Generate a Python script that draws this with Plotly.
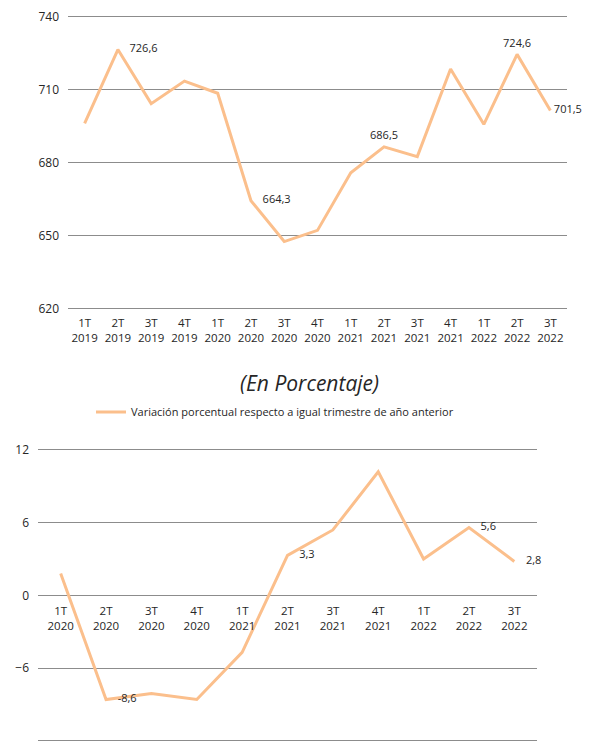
import plotly.graph_objects as go

# Datos: nivel trimestral (gráfico superior)
trimestres_nivel = ["1T<br>2019", "2T<br>2019", "3T<br>2019", "4T<br>2019",
                    "1T<br>2020", "2T<br>2020", "3T<br>2020", "4T<br>2020",
                    "1T<br>2021", "2T<br>2021", "3T<br>2021", "4T<br>2021",
                    "1T<br>2022", "2T<br>2022", "3T<br>2022"]
valores_nivel = [696.2, 726.6, 704.3, 713.6, 708.6, 664.3, 647.5, 652.1,
                 675.8, 686.5, 682.5, 718.6, 695.8, 724.6, 701.5]
ticks_nivel = [620, 650, 680, 710, 740]
etiquetas_nivel = {1: "middle right", 5: "middle right", 9: "top center",
                   13: "top center", 14: "middle right"}

# Datos: variación porcentual (gráfico inferior)
trimestres_var = ["1T<br>2020", "2T<br>2020", "3T<br>2020", "4T<br>2020",
                  "1T<br>2021", "2T<br>2021", "3T<br>2021", "4T<br>2021",
                  "1T<br>2022", "2T<br>2022", "3T<br>2022"]
valores_var = [1.8, -8.6, -8.1, -8.6, -4.7, 3.3, 5.4, 10.2, 3.0, 5.6, 2.8]
ticks_var = [-12, -6, 0, 6, 12]
etiquetas_var = {1: "middle right", 5: "middle right", 9: "middle right",
                 10: "middle right"}

nombre_serie = "Variación porcentual respecto a igual trimestre de año anterior"

COLOR_LINEA = "#FBBF8C"
COLOR_GRID = "#8C8C8C"
COLOR_TEXTO = "#262626"
FUENTE = "Open Sans"

# la página deja 8px de margen en el body: se trabaja en píxeles de pantalla
OFF = 8
W, H = 591 - 2 * OFF, 747 - OFF


def fmt(v):
    return f"{v:.1f}".replace(".", ",")


def textos(valores, etiquetas):
    txt = [fmt(v) if i in etiquetas else "" for i, v in enumerate(valores)]
    pos = [etiquetas.get(i, "middle right") for i in range(len(valores))]
    # marcadores invisibles para separar las etiquetas de la línea
    tam = [6 if p == "top center" else 17 for p in pos]
    # la última etiqueta queda pegada al borde derecho de la página
    tam[-1] = 4
    return txt, pos, tam


def px_x(a, b):
    return [(a - OFF) / W, (b - OFF) / W]


def px_y(top, bottom):
    return [1 - (bottom - OFF) / H, 1 - (top - OFF) / H]


def dominio_y(rango, y_lo, y_hi, pad):
    # y_lo / y_hi: píxel de pantalla de rango[0] / rango[1]
    escala = (y_lo - y_hi) / (rango[1] - rango[0])
    return px_y(y_hi - pad * escala, y_lo + pad * escala), [rango[0] - pad, rango[1] + pad]


fig = go.Figure()

txt1, pos1, tam1 = textos(valores_nivel, etiquetas_nivel)
fig.add_trace(go.Scatter(
    x=trimestres_nivel, y=valores_nivel, mode="lines+markers+text",
    line=dict(color=COLOR_LINEA, width=3),
    marker=dict(size=tam1, color="rgba(0,0,0,0)", line=dict(width=0)),
    text=txt1, textposition=pos1,
    textfont=dict(family=FUENTE, size=11, color=COLOR_TEXTO),
    cliponaxis=False, showlegend=False,
    xaxis="x", yaxis="y",
))

txt2, pos2, tam2 = textos(valores_var, etiquetas_var)
tam2[-1] = 17
fig.add_trace(go.Scatter(
    x=trimestres_var, y=valores_var, mode="lines+markers+text",
    line=dict(color=COLOR_LINEA, width=3),
    marker=dict(size=tam2, color="rgba(0,0,0,0)", line=dict(width=0)),
    text=txt2, textposition=pos2,
    textfont=dict(family=FUENTE, size=11, color=COLOR_TEXTO),
    cliponaxis=False, name=nombre_serie, showlegend=True,
    xaxis="x2", yaxis="y2",
))

dom_y1, rango_y1 = dominio_y([620, 740], 308.3, 17, 1.5)
dom_y2, rango_y2 = dominio_y([-12, 12], 740.7, 450, 0.3)

eje_x = dict(showgrid=False, zeroline=False, showline=False, ticks="",
             tickangle=0, tickfont=dict(family=FUENTE, size=11.5, color=COLOR_TEXTO),
             automargin=False, fixedrange=True)
eje_y = dict(showgrid=True, gridcolor=COLOR_GRID, gridwidth=1, zeroline=False,
             showline=False, ticks="", ticklabelstandoff=8,
             tickfont=dict(family=FUENTE, size=12, color=COLOR_TEXTO),
             automargin=False, fixedrange=True)

fig.update_layout(
    width=W, height=H,
    margin=dict(l=0, r=0, t=0, b=0),
    paper_bgcolor="white", plot_bgcolor="white",
    xaxis=dict(eje_x, domain=px_x(68, 567), anchor="y", ticklabelstandoff=3,
               range=[-0.5, len(trimestres_nivel) - 0.5]),
    yaxis=dict(eje_y, domain=dom_y1, range=rango_y1,
               tickvals=ticks_nivel, anchor="x"),
    xaxis2=dict(eje_x, domain=px_x(38, 537), anchor="free", ticklabelstandoff=7,
                position=(dom_y2[0] + dom_y2[1]) / 2,
                range=[-0.5, len(trimestres_var) - 0.5]),
    yaxis2=dict(eje_y, domain=dom_y2, range=rango_y2,
                tickvals=ticks_var, anchor="x2"),
    legend=dict(
        x=(91 - OFF) / W, y=1 - (412 - OFF) / H, xanchor="left", yanchor="middle",
        orientation="h", bgcolor="rgba(0,0,0,0)",
        font=dict(family=FUENTE, size=11, color=COLOR_TEXTO),
        itemwidth=30,
    ),
    annotations=[dict(
        text="<i>(En Porcentaje)</i>", xref="paper", yref="paper",
        x=(309 - OFF) / W, y=1 - (383 - OFF) / H, showarrow=False,
        font=dict(family=FUENTE, size=21, color=COLOR_TEXTO),
    )],
)

fig.write_html("out.html")
